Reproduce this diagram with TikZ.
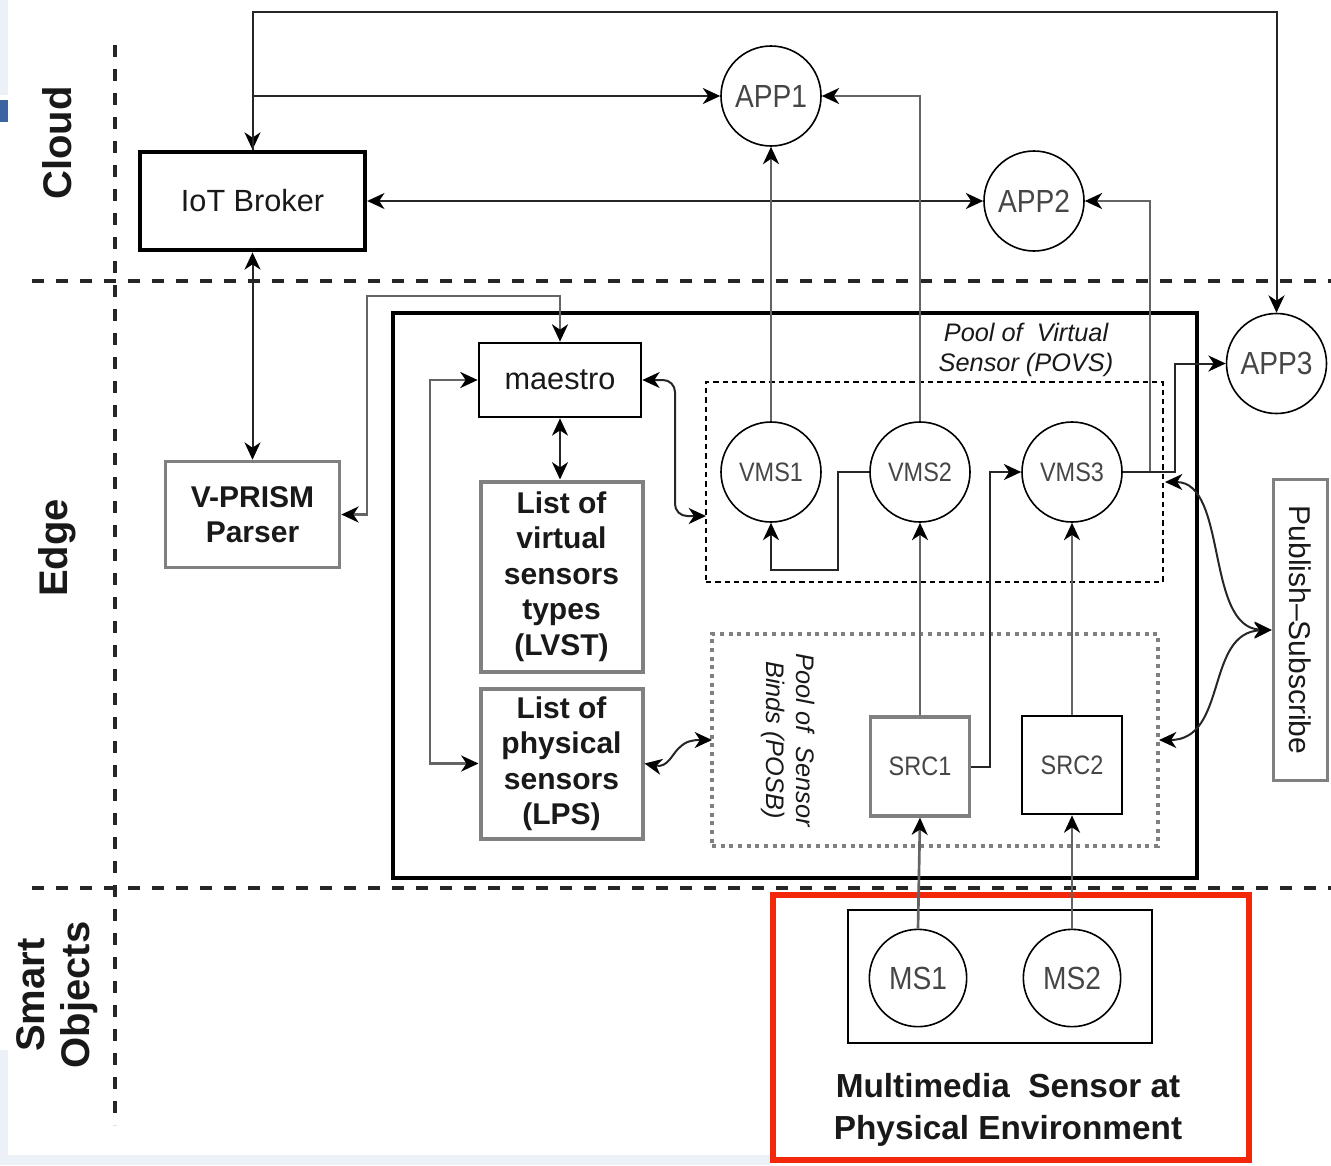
\documentclass[tikz,border=0pt]{standalone}
\usepackage{fontspec}
\setmainfont{Liberation Sans}
\newfontfamily\narrowf[FakeStretch=0.88]{Liberation Sans}
\usetikzlibrary{arrows.meta}
\definecolor{gline}{RGB}{100,100,100}
\definecolor{gbox}{RGB}{128,128,128}
\definecolor{txt}{RGB}{25,25,25}
\definecolor{ctxt}{RGB}{70,70,70}
\definecolor{redbox}{RGB}{243,40,10}
\definecolor{bluebar}{RGB}{60,100,160}
\definecolor{paleblue}{RGB}{236,241,247}
\tikzset{
  tipend/.style={-{Stealth[length=13pt,width=12pt,inset=4pt,black]}},
  tipstart/.style={{Stealth[length=13pt,width=12pt,inset=4pt,black]}-},
  tipboth/.style={{Stealth[length=13pt,width=12pt,inset=4pt,black]}-{Stealth[length=13pt,width=12pt,inset=4pt,black]}}
}
\begin{document}
\begin{tikzpicture}[x=0.75pt,y=-0.75pt,
  layer/.style={line width=3pt, dash pattern=on 9pt off 9pt, black!85},
  conn/.style={line width=1.5pt, black!85},
  gconn/.style={line width=2pt, gline},
  laylab/.style={font=\bfseries\fontsize{30}{34}\selectfont, text=txt, align=center},
  blab/.style={font=\bfseries\fontsize{22.5}{26.6}\selectfont, text=txt, align=center},
  rlab/.style={font=\fontsize{23}{28}\selectfont, text=txt, align=center},
  circ/.style={draw, circle, line width=1.2pt, minimum size=75pt, inner sep=0pt, fill=white, text=ctxt},
  applab/.style={font=\narrowf\fontsize{24}{28}\selectfont},
  vmslab/.style={font=\narrowf\fontsize{20}{24}\selectfont},
  poollab/.style={font=\itshape\fontsize{19}{22.5}\selectfont, text=txt, align=center}
]
\useasboundingbox (0,0) rectangle (1331,1165);
% background artefacts
\fill[paleblue] (0,0) rectangle (8,95);
\fill[bluebar] (0,100) rectangle (8,122);
\fill[paleblue] (0,1050) rectangle (8,1165);
\fill[paleblue] (0,1155) rectangle (770,1165);

% layer separators
\draw[layer] (115,45) -- (115,1125);
\draw[layer] (32,281) -- (1331,281);
\draw[layer] (32,888) -- (1331,888);

% layer labels
\node[laylab, rotate=90] (cloud) at (57,143) {Cloud};
\node[laylab, rotate=90] (edge) at (57,548) {Edge};
\node[laylab, rotate=90] (smart) at (57,995) {Smart\\Objects};

% edge container
\draw[line width=3pt, black] (393,313) rectangle (1197,878);

% pools
\node[draw, line width=1.1pt, dash pattern=on 4pt off 3pt, minimum width=342.75pt, minimum height=150pt, inner sep=0pt] (povs) at (934.5,482) {};
\node[draw=gbox, line width=2.6pt, dash pattern=on 3pt off 3.5pt, minimum width=334.5pt, minimum height=159pt, inner sep=0pt] (posb) at (935,740) {};
\node[poollab] (povslab) at (1026,350) {Pool of \ Virtual\\Sensor (POVS)};
\node[poollab, rotate=-90] (posblab) at (788,740) {Pool of \ Sensor\\Binds (POSB)};
\coordinate (povsL) at (706,516);
\coordinate (povsR) at (1165,482);
\coordinate (posbL) at (712,740);
\coordinate (posbR) at (1159,740);

% nodes
\node[draw, line width=3pt, minimum width=169pt, minimum height=74pt, fill=white, rlab] (broker) at (252.5,201) {IoT Broker};
\node[draw=gbox, line width=2.2pt, minimum width=131pt, minimum height=80pt, fill=white, blab, text width=120pt] (vprism) at (252.5,514.5) {V-PRISM\\Parser};
\node[draw, line width=1.5pt, minimum width=122pt, minimum height=56pt, fill=white, rlab] (maestro) at (560,380) {maestro};
\node[draw=gbox, line width=3pt, minimum width=121.5pt, minimum height=142.5pt, fill=white, blab] (lvst) at (561.5,576.5) {List of\\virtual\\sensors\\types\\(LVST)};
\node[draw=gbox, line width=3pt, minimum width=121.5pt, minimum height=112.5pt, fill=white, blab] (lps) at (561.5,763.5) {List of\\physical\\sensors\\(LPS)};
\node[draw=gbox, line width=2.6pt, minimum width=74.5pt, minimum height=74pt, fill=white, vmslab, text=ctxt] (src1) at (920,766.5) {SRC1};
\node[draw, line width=1.5pt, minimum width=75pt, minimum height=74pt, fill=white, vmslab, text=ctxt] (src2) at (1072,765) {SRC2};
\node[draw=gbox, line width=2.2pt, minimum width=41pt, minimum height=226pt, fill=white, inner sep=0pt] (pubsub) at (1300.5,630) {};
\node[rotate=-90, font=\fontsize{22.5}{26}\selectfont, text=txt] (pubsublab) at (1300.5,630) {Publish--Subscribe};

\node[circ, applab] (app1) at (771,96) {APP1};
\node[circ, applab] (app2) at (1034,201) {APP2};
\node[circ, applab] (app3) at (1276.5,363.5) {APP3};
\node[circ, vmslab] (vms1) at (771,472) {VMS1};
\node[circ, vmslab] (vms2) at (920,472) {VMS2};
\node[circ, vmslab] (vms3) at (1072,472) {VMS3};

% smart objects
\node[draw=redbox, line width=4.5pt, minimum width=357pt, minimum height=199pt, inner sep=0pt] (redfr) at (1011,1027.5) {};
\node[draw, line width=1.2pt, minimum width=228pt, minimum height=99.75pt, inner sep=0pt] (msbox) at (1000,976.5) {};
\node[circ, applab, minimum size=73pt] (ms1) at (918,978) {MS1};
\node[circ, applab, minimum size=73pt] (ms2) at (1072,978) {MS2};
\node[font=\bfseries\fontsize{25}{31}\selectfont, text=txt, align=center] (mslab) at (1008,1110) {Multimedia \ Sensor at\\Physical Environment};

% connectors: cloud
\draw[conn,tipboth] (app3.north) |- (252.5,12) -- (broker.north);
\draw[conn,tipend] (broker.north) |- (app1.west);
\draw[conn,tipboth] (broker.east) -- (app2.west);
\draw[conn,tipboth] (broker.south) -- (vprism.north);
\draw[gconn,tipend] (vms1.north) -- (app1.south);
\draw[gconn,tipend] (vms2.north) |- (app1.east);
\draw[gconn,tipend] (vms3.east) -- (1150,472) |- (app2.east);
\draw[conn,tipend] (vms3.east) -- (1175,472) |- (app3.west);

% connectors: edge
\draw[gconn,tipboth] (maestro.north) |- (367,296) |- (vprism.east);
\draw[conn,tipboth] (maestro.south) -- (maestro.south |- lvst.north);
\draw[gconn,tipboth] (maestro.west) -- (430,380) |- (lps.west);
\draw[conn,tipboth, rounded corners=9pt] (maestro.east) -- (675,380) -- (675,516) -- (povsL);
\draw[conn,tipboth] (lps.east) .. controls (668,768) and (672,754) .. (679,748) .. controls (686,741) and (692,740) .. (posbL);
\draw[conn,tipend] (vms2.west) -- (838,472) -- (838,570) -| (vms1.south);
\draw[conn,tipend] (src1.east) -- (990,766.5) |- (vms3.west);
\draw[gconn,tipend] (src1.north) -- (vms2.south);
\draw[gconn,tipend] (src2.north) -- (vms3.south);
\draw[conn,tipboth] (povsR) .. controls (1228,482) and (1205,628) .. (pubsub.west);
\draw[conn,tipboth] (posbR) .. controls (1228,740) and (1205,632) .. (pubsub.west);

% connectors: smart objects
\draw[gconn,tipend] (ms1.north) -- (src1.south);
\draw[gconn,tipend] (ms2.north) -- (src2.south);
\end{tikzpicture}
\end{document}
